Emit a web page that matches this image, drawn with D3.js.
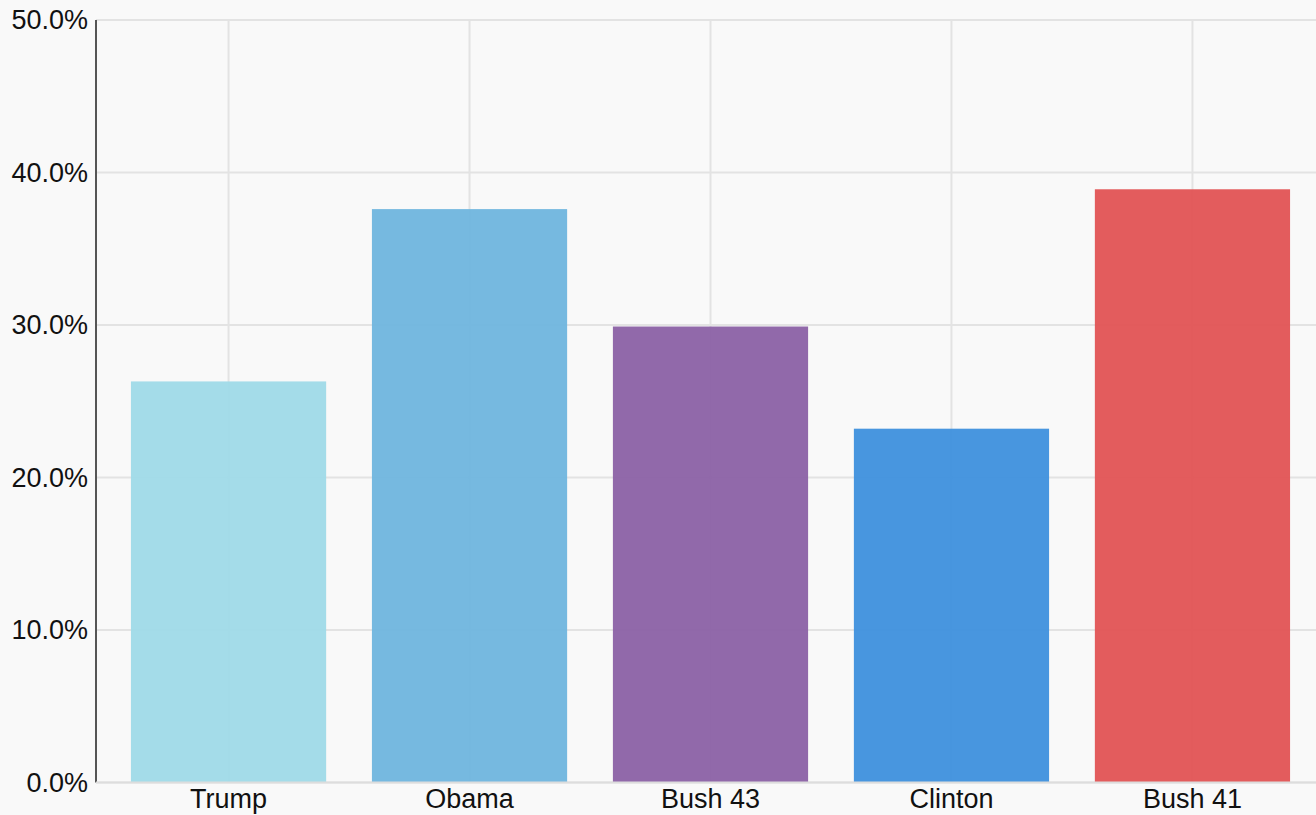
<!DOCTYPE html>
<html>
<head>
<meta charset="utf-8">
<script src="https://cdn.jsdelivr.net/npm/d3@7"></script>
<style>
  html, body { margin: 0; padding: 0; background: #f9f9f9; overflow: hidden; }
  text { font-family: "Liberation Sans", Arial, sans-serif; }
</style>
</head>
<body>
<script>
var presidents = ["Trump", "Obama", "Bush 43", "Clinton", "Bush 41"];
var shares = [26.3, 37.6, 29.9, 23.2, 38.9];
var barColors = ["#9fdae8", "#6fb5de", "#8b61a5", "#3e90dd", "#e25354"];
var yTicks = [0, 10, 20, 30, 40, 50];

var W = 1316, H = 815;
var plotLeft = 96, plotTop = 20, plotBottom = 782.5;

var svg = d3.select("body").append("svg")
    .attr("width", W)
    .attr("height", H);

var x = d3.scaleBand()
    .domain(presidents)
    .range([plotLeft, 1325])
    .paddingInner(0.19)
    .paddingOuter(0.145);

var y = d3.scaleLinear()
    .domain([0, 50])
    .range([plotBottom, plotTop]);

// grid
svg.append("g").selectAll("line")
    .data(yTicks)
  .enter().append("line")
    .attr("x1", plotLeft).attr("x2", W)
    .attr("y1", function(d) { return y(d); })
    .attr("y2", function(d) { return y(d); })
    .attr("stroke", "#e3e3e3")
    .attr("stroke-width", 2);

svg.append("g").selectAll("line")
    .data(presidents)
  .enter().append("line")
    .attr("x1", function(d) { return x(d) + x.bandwidth() / 2; })
    .attr("x2", function(d) { return x(d) + x.bandwidth() / 2; })
    .attr("y1", plotTop).attr("y2", plotBottom)
    .attr("stroke", "#e3e3e3")
    .attr("stroke-width", 2);

// bars
svg.append("g").selectAll("rect")
    .data(shares)
  .enter().append("rect")
    .attr("x", function(d, i) { return x(presidents[i]); })
    .attr("y", function(d) { return y(d); })
    .attr("width", x.bandwidth())
    .attr("height", function(d) { return y(0) - y(d); })
    .attr("fill", function(d, i) { return barColors[i]; })
    .attr("fill-opacity", 0.95);

// y axis
var yAxis = svg.append("g")
    .attr("transform", "translate(" + plotLeft + ",0)")
    .call(d3.axisLeft(y).tickValues(yTicks).tickSize(0).tickPadding(8)
      .tickFormat(function(d) { return d3.format(".1f")(d) + "%"; }));
yAxis.select(".domain").attr("stroke", "#555").attr("stroke-width", 2)
    .attr("d", "M0," + plotTop + "V" + plotBottom);
yAxis.selectAll("text")
    .attr("font-size", 27)
    .attr("fill", "#111")
    .attr("font-family", "'Liberation Sans', Arial, sans-serif");

// x axis
var xAxis = svg.append("g")
    .attr("transform", "translate(0," + plotBottom + ")")
    .call(d3.axisBottom(x).tickSize(0).tickPadding(6));
xAxis.select(".domain").attr("stroke", "#dddddd").attr("stroke-width", 2)
    .attr("d", "M" + plotLeft + ",0H" + W);
xAxis.selectAll("text")
    .attr("font-size", 27)
    .attr("fill", "#111")
    .attr("font-family", "'Liberation Sans', Arial, sans-serif");
</script>
</body>
</html>
